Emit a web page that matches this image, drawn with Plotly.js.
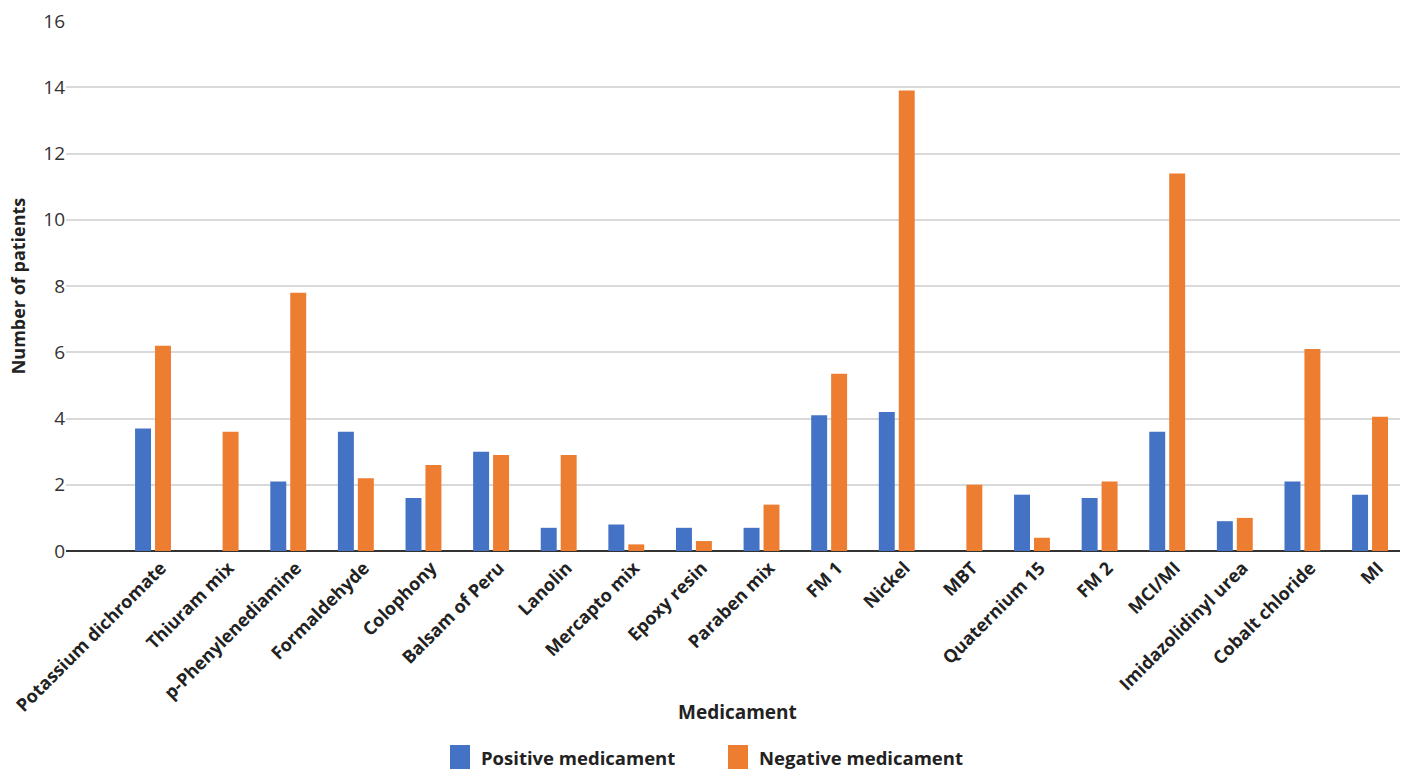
<!DOCTYPE html>
<html>
<head>
<meta charset="utf-8">
<script src="https://cdn.plot.ly/plotly-3.0.1.min.js"></script>
<style>html,body{margin:0;padding:0;background:#fff;}#chart{width:1403px;height:769px;}</style>
</head>
<body>
<div id="chart"></div>
<script>
const categories = ["Potassium dichromate","Thiuram mix","p-Phenylenediamine","Formaldehyde","Colophony","Balsam of Peru","Lanolin","Mercapto mix","Epoxy resin","Paraben mix","FM 1","Nickel","MBT","Quaternium 15","FM 2","MCI/MI","Imidazolidinyl urea","Cobalt chloride","MI"];
const positiveValues = [3.7, 0, 2.1, 3.6, 1.6, 3.0, 0.7, 0.8, 0.7, 0.7, 4.1, 4.2, 0, 1.7, 1.6, 3.6, 0.9, 2.1, 1.7];
const negativeValues = [6.2, 3.6, 7.8, 2.2, 2.6, 2.9, 2.9, 0.2, 0.3, 1.4, 5.35, 13.9, 2.0, 0.4, 2.1, 11.4, 1.0, 6.1, 4.05];
const seriesNames = ["Positive medicament", "Negative medicament"];
const seriesColors = ['#4472C4', '#ED7D31'];
const yTicks = [0, 2, 4, 6, 8, 10, 12, 14, 16];
const xTitle = "Medicament";
const yTitle = "Number of patients";

const FONT = "'Open Sans', 'Noto Sans', sans-serif";
const traces = [
  {type: 'bar', name: seriesNames[0], x: categories, y: positiveValues, marker: {color: seriesColors[0]}, hoverinfo: 'x+y'},
  {type: 'bar', name: seriesNames[1], x: categories, y: negativeValues, marker: {color: seriesColors[1]}, hoverinfo: 'x+y'}
];

// Custom legend (large colour squares like the reference)
const legendSquares = [
  {x0: 450, x1: 470}, {x0: 728, x1: 748}
];
const shapes = seriesNames.map((n, i) => ({
  type: 'rect', xref: 'paper', yref: 'paper', layer: 'above',
  x0: (legendSquares[i].x0 - 66) / 1334, x1: (legendSquares[i].x1 - 66) / 1334,
  y0: (551 - 769) / 530, y1: (551 - 745) / 530,
  fillcolor: seriesColors[i], line: {width: 0}
}));
const annotations = seriesNames.map((n, i) => ({
  xref: 'paper', yref: 'paper', showarrow: false,
  x: (legendSquares[i].x1 + 9 - 66) / 1334, xanchor: 'left',
  y: (551 - 757) / 530, yanchor: 'middle',
  text: '<b>' + n + '</b>',
  font: {family: FONT, size: 18.5, color: '#222'}
}));
annotations.push({
  xref: 'paper', yref: 'paper', showarrow: false,
  x: (737 - 66) / 1334, xanchor: 'center',
  y: (551 - 712) / 530, yanchor: 'middle',
  text: '<b>' + xTitle + '</b>',
  font: {family: FONT, size: 19, color: '#222'}
});

const layout = {
  width: 1403, height: 769,
  margin: {l: 66, r: 3, t: 21, b: 218},
  paper_bgcolor: '#fff', plot_bgcolor: '#fff',
  barmode: 'group', bargap: 0.41, bargroupgap: 0.2,
  font: {family: FONT, color: '#222'},
  xaxis: {
    type: 'category',
    range: [-1.287, 18.443],
    tickangle: -45,
    tickfont: {family: FONT, size: 18, color: '#222', weight: 'bold'},
    ticklabelshift: 8, ticklabelstandoff: 2,
    showgrid: false, ticks: '', showline: false, zeroline: false,
    automargin: false
  },
  yaxis: {
    range: [0, 16],
    tickvals: yTicks,
    ticktext: yTicks.map(String),
    tickfont: {family: FONT, size: 19, color: '#333'},
    gridcolor: '#d9d9d9', gridwidth: 1.5,
    zeroline: true, zerolinecolor: '#333', zerolinewidth: 2,
    showline: false, ticks: '', ticklen: 0,
    automargin: false,
    title: {text: '<b>' + yTitle + '</b>', font: {family: FONT, size: 18, color: '#222'}, standoff: 12}
  },
  showlegend: false,
  shapes: shapes,
  annotations: annotations,
  hovermode: 'closest'
};
Plotly.newPlot('chart', traces, layout, {displayModeBar: false});
</script>
</body>
</html>
